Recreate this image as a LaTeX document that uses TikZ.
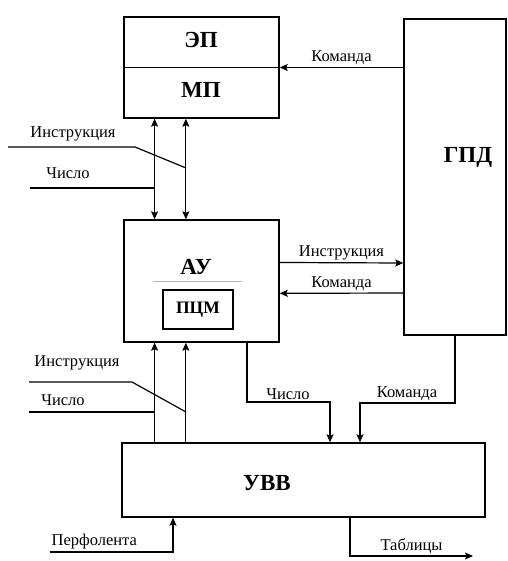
\documentclass[tikz,border=0pt]{standalone}
\usepackage{fontspec}
\setmainfont{Liberation Serif}
\usetikzlibrary{arrows.meta,calc}

\begin{document}
\begin{tikzpicture}[x=1pt,y=-1pt,>={Stealth[length=8pt,width=7pt,inset=1.5pt]},line width=1.2pt,
        block/.style={rectangle,draw=black,line width=1.4pt,inner sep=0},
        title/.style={font=\bfseries\fontsize{23}{25}\selectfont,inner sep=0},
        lbl/.style={font=\fontsize{16.5}{18}\selectfont,inner sep=2pt}]
        \useasboundingbox (0,0) rectangle (507,561);
        % blocks
        \node[block,minimum width=155pt,minimum height=101pt] (mem) at (201.5,67.5) {};
        \node[title] (ep) at (201,40) {ЭП};
        \node[title] (mp) at (201,90) {МП};
        \draw (mem.west) -- (mem.east);
        \node[block,minimum width=102pt,minimum height=316pt] (gpd) at (455,177) {};
        \node[title] (gpdt) at (468,157) {ГПД};
        \node[block,minimum width=155pt,minimum height=122pt] (au) at (201.5,281) {};
        \node[title] (aut) at (196,267) {АУ};
        \draw[gray!60,line width=0.6pt] (153,281) -- (242,281);
        \node[block,minimum width=70pt,minimum height=39pt,font=\bfseries\fontsize{17.5}{19}\selectfont] (pcm) at (198,309.5) {ПЦМ};
        \node[block,minimum width=363pt,minimum height=74pt] (uvv) at (303.5,480) {};
        \node[title] (uvvt) at (267,483) {УВВ};
        % buses between blocks
        \coordinate (b1) at ($(mem.south west)!0.2!(mem.south east)$);
        \coordinate (b2) at ($(mem.south west)!0.4!(mem.south east)$);
        \coordinate (c1) at ($(au.south west)!0.2!(au.south east)$);
        \coordinate (c2) at ($(au.south west)!0.4!(au.south east)$);
        \draw[<->] (b1) -- (au.north -| b1);
        \draw[<->] (b2) -- (au.north -| b2);
        \draw[->] (uvv.north -| c1) -- (c1);
        \draw[->] (uvv.north -| c2) -- (c2);
        % inputs on the left
        \coordinate (in1) at (8,147);
        \coordinate (n1) at (30,188);
        \draw (in1) -- (135,147) -- (186,168);
        \draw (n1) -- (155,188);
        \node[lbl] (in1t) at (73,134) {Инструкция};
        \node[lbl] (n1t) at (68,173) {Число};
        \coordinate (in2) at (29,382);
        \coordinate (n2) at (29,412);
        \draw (in2) -- (132,382) -- (186,412);
        \draw (n2) -- (155,412);
        \node[lbl] (in2t) at (77,363) {Инструкция};
        \node[lbl] (n2t) at (63,400) {Число};
        % control
        \draw[->] (gpd.west |- mem.east) -- node[lbl,above] {Команда} (mem.east);
        \draw[->] ($(au.north east)!0.35!(au.south east)$) -- node[lbl,above] {Инструкция} (gpd.west |- 0,263);
        \draw[->] (gpd.west |- 0,293) -- node[lbl,above] {Команда} ($(au.north east)!0.6!(au.south east)$);
        \draw[->] (au.south -| 247,0) |- (288,402) node[lbl,above] {Число} -| (uvv.north -| 330,0);
        \draw[->] (gpd.south) |- (407,403) node[lbl,above] {Команда} -| (uvv.north -| 360,0);
        % input and output
        \coordinate (perf) at (50,552);
        \coordinate (tab) at (473,556);
        \draw[->] (perf) -| node[lbl,above,pos=0.18] {Перфолента} (uvv.south -| 173,0);
        \draw[->] (uvv.south -| 350,0) |- node[lbl,above,pos=0.75] {Таблицы} (tab);
\end{tikzpicture}
\end{document}
